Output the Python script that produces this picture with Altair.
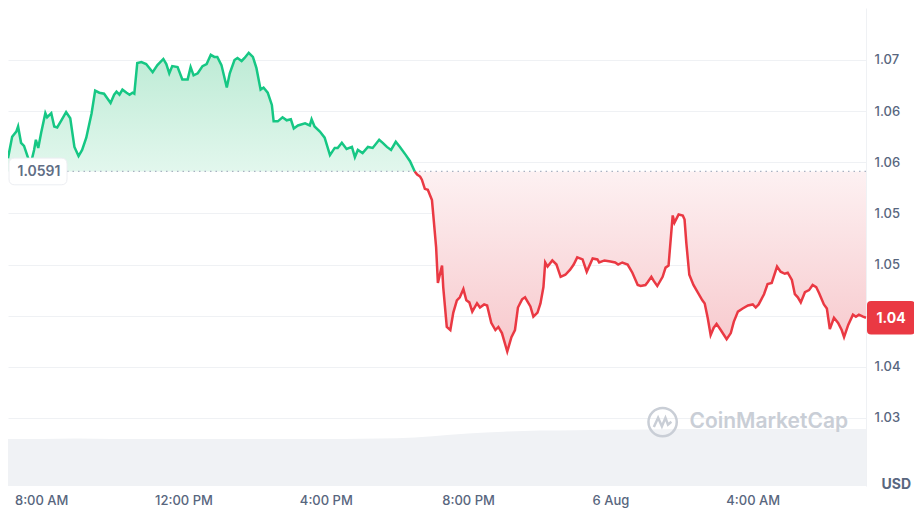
import altair as alt
import pandas as pd

# ---------------- data ----------------
times = [
    "07:04", "07:11", "07:18", "07:21", "07:26", "07:31", "07:38", "07:43", "07:48", "07:51",
    "07:55", "08:00", "08:07", "08:10", "08:17", "08:22", "08:27", "08:34", "08:42", "08:49",
    "08:56", "09:03", "09:09", "09:16", "09:25", "09:31", "09:38", "09:46", "09:57", "10:03",
    "10:07", "10:12", "10:17", "10:24", "10:29", "10:34", "10:37", "10:42", "10:49", "10:57",
    "11:08", "11:16", "11:26", "11:31", "11:36", "11:41", "11:50", "11:58", "12:07", "12:12",
    "12:17", "12:24", "12:32", "12:39", "12:46", "12:52", "12:57", "13:04", "13:13", "13:18",
    "13:26", "13:31", "13:38", "13:43", "13:50", "13:57", "14:03", "14:10", "14:15", "14:22",
    "14:29", "14:32", "14:39", "14:47", "14:54", "15:01", "15:06", "15:13", "15:25", "15:33",
    "15:36", "15:41", "15:50", "15:58", "16:07", "16:15", "16:20", "16:27", "16:35", "16:44",
    "16:49", "16:54", "17:02", "17:11", "17:19", "17:30", "17:36", "17:43", "17:50", "17:58",
    "18:05", "18:15", "18:22", "18:30", "18:34", "18:39", "18:42", "18:47", "18:52", "18:59",
    "19:01", "19:06", "19:09", "19:13", "19:16", "19:18", "19:24", "19:30", "19:35", "19:41",
    "19:46", "19:52", "19:57", "20:02", "20:07", "20:12", "20:15", "20:20", "20:27", "20:32",
    "20:39", "20:46", "20:51", "20:57", "21:06", "21:13", "21:19", "21:24", "21:31", "21:36",
    "21:45", "21:50", "21:57", "22:02", "22:07", "22:10", "22:14", "22:22", "22:29", "22:36",
    "22:44", "22:52", "22:58", "23:04", "23:13", "23:20", "23:30", "23:38", "23:41", "23:50",
    "00:00", "00:08", "00:13", "00:20", "00:29", "00:37", "00:46", "00:51", "00:59", "01:03",
    "01:09", "01:13", "01:19", "01:28", "01:33", "01:38", "01:45", "01:48", "01:55", "02:02",
    "02:05", "02:08", "02:13", "02:20", "02:27", "02:35", "02:39", "02:44", "02:49", "02:54",
    "02:59", "03:06", "03:16", "03:23", "03:28", "03:35", "03:43", "03:52", "04:00", "04:05",
    "04:10", "04:19", "04:25", "04:32", "04:41", "04:47", "04:54", "04:59", "05:06", "05:11",
    "05:16", "05:21", "05:28", "05:35", "05:41", "05:47", "05:52", "06:00", "06:05", "06:10",
    "06:17", "06:24", "06:30", "06:34", "06:41", "06:49", "06:54", "06:59", "07:06", "07:11",
]
prices = [
    1.0604, 1.0625, 1.0630, 1.0635, 1.0619, 1.0616, 1.0604, 1.0600, 1.0612, 1.0622,
    1.0614, 1.0629, 1.0648, 1.0644, 1.0648, 1.0635, 1.0634, 1.0641, 1.0649, 1.0643,
    1.0615, 1.0606, 1.0612, 1.0624, 1.0648, 1.0670, 1.0668, 1.0667, 1.0658, 1.0666,
    1.0669, 1.0666, 1.0671, 1.0668, 1.0666, 1.0668, 1.0667, 1.0697, 1.0698, 1.0696,
    1.0688, 1.0695, 1.0701, 1.0696, 1.0687, 1.0694, 1.0693, 1.0681, 1.0681, 1.0693,
    1.0685, 1.0687, 1.0694, 1.0696, 1.0705, 1.0703, 1.0703, 1.0695, 1.0673, 1.0687,
    1.0700, 1.0702, 1.0699, 1.0702, 1.0707, 1.0703, 1.0692, 1.0671, 1.0673, 1.0668,
    1.0656, 1.0640, 1.0640, 1.0644, 1.0641, 1.0642, 1.0633, 1.0636, 1.0638, 1.0636,
    1.0642, 1.0635, 1.0630, 1.0624, 1.0607, 1.0614, 1.0614, 1.0619, 1.0613, 1.0615,
    1.0605, 1.0612, 1.0609, 1.0615, 1.0614, 1.0622, 1.0619, 1.0615, 1.0612, 1.0620,
    1.0615, 1.0607, 1.0601, 1.0591, 1.0588, 1.0586, 1.0583, 1.0574, 1.0573, 1.0563,
    1.0550, 1.0517, 1.0482, 1.0492, 1.0499, 1.0478, 1.0439, 1.0436, 1.0453, 1.0465,
    1.0468, 1.0476, 1.0465, 1.0463, 1.0454, 1.0459, 1.0462, 1.0458, 1.0461, 1.0460,
    1.0443, 1.0436, 1.0439, 1.0433, 1.0415, 1.0429, 1.0436, 1.0458, 1.0466, 1.0468,
    1.0459, 1.0449, 1.0453, 1.0462, 1.0478, 1.0502, 1.0498, 1.0504, 1.0500, 1.0488,
    1.0490, 1.0495, 1.0500, 1.0507, 1.0505, 1.0493, 1.0506, 1.0505, 1.0502, 1.0504,
    1.0503, 1.0502, 1.0500, 1.0502, 1.0500, 1.0492, 1.0480, 1.0479, 1.0480, 1.0483,
    1.0488, 1.0484, 1.0479, 1.0488, 1.0497, 1.0499, 1.0548, 1.0541, 1.0549, 1.0548,
    1.0544, 1.0521, 1.0490, 1.0480, 1.0473, 1.0465, 1.0462, 1.0448, 1.0431, 1.0438,
    1.0442, 1.0436, 1.0427, 1.0433, 1.0444, 1.0454, 1.0457, 1.0460, 1.0461, 1.0458,
    1.0461, 1.0471, 1.0481, 1.0482, 1.0498, 1.0493, 1.0491, 1.0492, 1.0485, 1.0471,
    1.0468, 1.0463, 1.0473, 1.0475, 1.0480, 1.0478, 1.0472, 1.0461, 1.0457, 1.0437,
    1.0448, 1.0443, 1.0436, 1.0429, 1.0441, 1.0451, 1.0449, 1.0451, 1.0449, 1.0448,
]
baseline = 1.0591

# volume buckets across the same 24 h window
vol_hours = [
    "07:04", "08:00", "09:00", "10:00", "11:00", "12:00", "13:00", "14:00", "15:00",
    "16:00", "17:00", "18:00", "19:00", "20:00", "21:00", "22:00", "23:00", "00:00",
    "01:00", "02:00", "03:00", "04:00", "05:00", "06:00", "07:00", "07:11",
]
vol_values = [
    2.60, 2.60, 2.62, 2.60, 2.60, 2.60, 2.60, 2.60, 2.60,
    2.60, 2.61, 2.64, 2.75, 2.90, 3.00, 3.06, 3.08, 3.10,
    3.12, 3.15, 3.15, 3.15, 3.15, 3.15, 3.15, 3.15,
]

y_ticks = [1.035, 1.04, 1.045, 1.05, 1.055, 1.06, 1.065, 1.07]
x_tick_hours = [(5, 8), (5, 12), (5, 16), (5, 20), (6, 0), (6, 4)]
watermark_pos = {"logo": ("01:28", 1.0346), "text": ("04:27", 1.0346)}

# ---------------- helpers ----------------
def stamp(hhmm_list, day=5):
    out, prev = [], None
    for s in hhmm_list:
        h, m = map(int, s.split(":"))
        cur = h * 60 + m
        if prev is not None and cur < prev:
            day += 1
        prev = cur
        out.append(f"2024-08-{day:02d}T{h:02d}:{m:02d}:00")
    return out


def to_dt(s):
    d, t = s.split("T")
    y, mo, da = map(int, d.split("-"))
    h, mi, _ = map(int, t.split(":"))
    return alt.DateTime(year=y, month=mo, date=da, hours=h, minutes=mi)


stamps = stamp(times)
df = pd.DataFrame({"t": stamps, "price": prices, "base": baseline})
k = next(i for i, p in enumerate(prices) if p < baseline)
green_df = df.iloc[:k]
red_df = df.iloc[k - 1:]
vol_df = pd.DataFrame({"t": stamp(vol_hours), "vol": vol_values})
last_price = prices[-1]

GRAY = "#58667e"
FONT = "Inter"

x_enc = alt.X(
    "t:T",
    scale=alt.Scale(domain=[to_dt(stamps[0]), to_dt(stamps[-1])], nice=False),
    axis=alt.Axis(
        values=[alt.DateTime(year=2024, month=8, date=d, hours=h) for d, h in x_tick_hours],
        labelExpr="hours(datum.value) == 0 ? timeFormat(datum.value, '%-d %b') : timeFormat(datum.value, '%-I:%M %p')",
        grid=False, ticks=False, domain=False, labelPadding=8,
        labelFontSize=13, labelColor=GRAY, labelFont=FONT, labelFontWeight=500,
        title=None,
    ),
)
# the price tag on the right covers the axis label that sits under it
y_label_expr = (
    f"abs(datum.value - {last_price}) < 0.0017 ? '' : format(datum.value, '.2f')"
)
y_enc = alt.Y(
    "price:Q",
    scale=alt.Scale(domain=[1.02835, 1.07508], nice=False, zero=False),
    axis=alt.Axis(
        orient="right", values=y_ticks, labelExpr=y_label_expr,
        grid=True, gridColor="#eff1f4", ticks=False,
        domain=True, domainColor="#eff1f4",
        labelPadding=8, labelFontSize=13, labelColor=GRAY, labelFont=FONT,
        labelFontWeight=500,
        title="USD", titleAngle=0, titleAlign="left", titleBaseline="middle",
        titleX=15, titleY=476, titleFontSize=14, titleColor=GRAY, titleFont=FONT,
        titleFontWeight=700,
    ),
)

# ---------------- layers ----------------
volume = alt.Chart(vol_df).mark_area(color="#f0f2f5", interpolate="monotone").encode(
    x=x_enc,
    y=alt.Y("vol:Q", scale=alt.Scale(domain=[0, 26.4], nice=False), axis=None),
)

green_grad = alt.Gradient(
    gradient="linear", x1=0, y1=0, x2=0, y2=1,
    stops=[alt.GradientStop(color="#bdebd5", offset=0),
           alt.GradientStop(color="#e2f7ed", offset=1)],
)
red_grad = alt.Gradient(
    gradient="linear", x1=0, y1=0, x2=0, y2=1,
    stops=[alt.GradientStop(color="#fdf1f2", offset=0),
           alt.GradientStop(color="#f7c8cc", offset=1)],
)

green_area = alt.Chart(green_df).mark_area(color=green_grad).encode(
    x=x_enc, y=y_enc, y2="base:Q"
)
red_area = alt.Chart(red_df).mark_area(color=red_grad).encode(
    x=x_enc, y=y_enc, y2="base:Q"
)

base_df = pd.DataFrame({"t": [stamps[0]], "price": [baseline]})
base_rule = alt.Chart(base_df).mark_rule(
    color="#a9b2c2", strokeDash=[1.5, 4], strokeWidth=1.2
).encode(y=y_enc)

green_line = alt.Chart(green_df).mark_line(color="#16c784", strokeWidth=2.5).encode(x=x_enc, y=y_enc)
red_line = alt.Chart(red_df).mark_line(color="#ea3943", strokeWidth=2.5).encode(x=x_enc, y=y_enc)


def rounded_rect(hw, hh, r):
    return (f"M{-hw + r},{-hh} L{hw - r},{-hh} Q{hw},{-hh} {hw},{-hh + r} "
            f"L{hw},{hh - r} Q{hw},{hh} {hw - r},{hh} L{-hw + r},{hh} "
            f"Q{-hw},{hh} {-hw},{hh - r} L{-hw},{-hh + r} Q{-hw},{-hh} {-hw + r},{-hh} Z")


base_box = alt.Chart(base_df).mark_point(
    shape=rounded_rect(1, 0.46, 0.2), size=3364, filled=True,
    fill="white", stroke="#eceef2", strokeWidth=1, opacity=1, xOffset=30,
).encode(x=x_enc, y=y_enc)
base_text = alt.Chart(base_df).mark_text(
    text=f"{baseline:.4f}", font=FONT, fontSize=14, fontWeight=600,
    color="#616e85", dx=31, dy=1,
).encode(x=x_enc, y=y_enc)

last_df = pd.DataFrame({"t": [stamps[-1]], "price": [last_price]})
tag_box = alt.Chart(last_df).mark_point(
    shape=rounded_rect(1, 0.70, 0.17), size=2304, filled=True,
    fill="#ea3943", strokeWidth=0, opacity=1, xOffset=25,
).encode(x=x_enc, y=y_enc)
tag_text = alt.Chart(last_df).mark_text(
    text=f"{last_price:.2f}", font=FONT, fontSize=14, fontWeight=700,
    color="white", dx=25, dy=1,
).encode(x=x_enc, y=y_enc)

logo_df = pd.DataFrame({"t": stamp([watermark_pos["logo"][0]], day=6),
                        "price": [watermark_pos["logo"][1]]})
text_df = pd.DataFrame({"t": stamp([watermark_pos["text"][0]], day=6),
                        "price": [watermark_pos["text"][1]]})
wm_circle = alt.Chart(logo_df).mark_point(
    shape="circle", size=800, filled=False, stroke="#c9ced6", strokeWidth=2.5, opacity=1,
).encode(x=x_enc, y=y_enc)
wm_wave = alt.Chart(logo_df).mark_point(
    shape="M-0.62,0.35 L-0.32,-0.3 L-0.05,0.3 L0.2,-0.3 L0.38,0.18 L0.62,-0.02",
    size=800, filled=False, stroke="#c9ced6", strokeWidth=2.5, opacity=1,
).encode(x=x_enc, y=y_enc)
wm_text = alt.Chart(text_df).mark_text(
    text="CoinMarketCap", font=FONT, fontSize=21, fontWeight=600, color="#c9ced6",
).encode(x=x_enc, y=y_enc)

price_layers = alt.layer(
    green_area, red_area, base_rule, green_line, red_line,
    base_box, base_text, tag_box, tag_text, wm_circle, wm_wave, wm_text,
)

chart = (
    alt.layer(volume, price_layers)
    .resolve_scale(y="independent")
    .properties(width=858, height=478, background="white",
                autosize=alt.AutoSizeParams(type="none"),
                padding={"left": 0, "top": 0, "right": 48, "bottom": 24})
    .configure_view(stroke=None)
)

chart.save("out.html", embed_options={"renderer": "svg", "actions": False})
